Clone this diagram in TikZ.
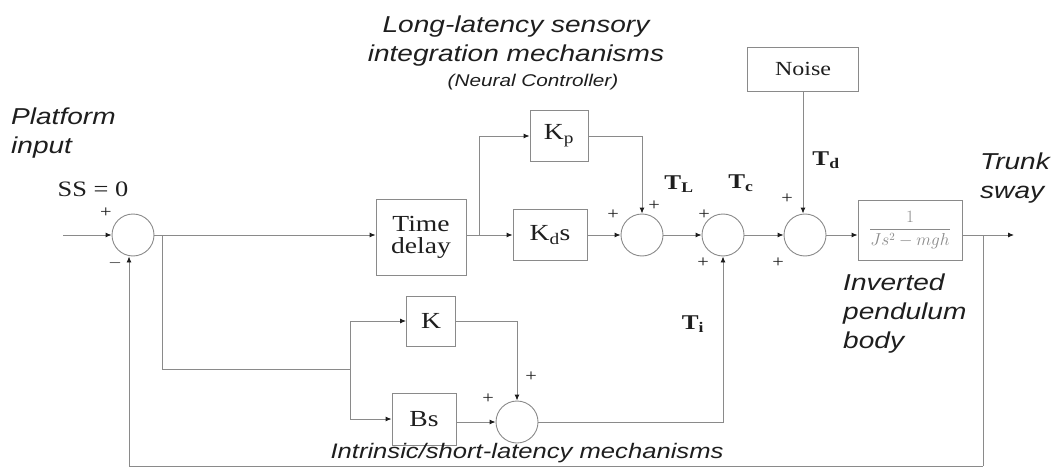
\documentclass[tikz,border=0pt]{standalone}
\usepackage{fontspec}
\setmainfont[FakeStretch=1.2]{Liberation Serif}
\newfontfamily\lblfont[FakeStretch=1.22]{Liberation Sans}
\usepackage{tikz}
\usetikzlibrary{arrows.meta, positioning, calc}
\definecolor{wirecol}{HTML}{8a8a8a}
\definecolor{inkcol}{HTML}{1e1e1e}

\begin{document}
\begin{tikzpicture}[x=1pt, y=-1pt,
  wire/.style={draw=wirecol, line width=0.9pt},
  arr/.style={wire, -{Latex[length=6pt,width=5pt,color=inkcol]}},
  blk/.style={rectangle, draw=wirecol, line width=0.9pt, inner sep=0pt, align=center,
    text=inkcol, font=\fontsize{23}{24}\selectfont},
  sumj/.style={circle, draw=wirecol, line width=0.9pt, minimum size=42pt, inner sep=0pt},
  sgn/.style={inner sep=0pt, text=inkcol, font=\fontsize{17}{17}\selectfont},
  tlbl/.style={inner sep=0pt, text=inkcol, font=\fontsize{21}{21}\selectfont\bfseries},
  lbl/.style={inner sep=0pt, text=inkcol, align=left, font=\lblfont\itshape\fontsize{23}{29}\selectfont}
]
\useasboundingbox (0,0) rectangle (1057,476);

% forward path
\node[sumj] (s1) at (133,235) {};
\node[blk, minimum width=90pt, minimum height=76pt] (td) at (421,237) {Time\\[-2pt]delay};
\node[blk, minimum width=58pt, minimum height=51pt] (kp) at (559,136) {K\textsubscript{p}};
\node[blk, minimum width=74pt, minimum height=51pt] (kd) at (550,235) {K\textsubscript{d}s};
\node[sumj] (s3) at (642,235) {};
\node[sumj] (s2) at (723,235) {};
\node[sumj] (s5) at (805,235) {};
\node[blk, minimum width=111pt, minimum height=44pt, font=\fontsize{20}{20}\selectfont] (nz) at (803,69) {Noise};
\node[blk, minimum width=104pt, minimum height=60pt, text=wirecol, font=\fontsize{16}{16}\selectfont] (pl) at (910,230) {$\displaystyle\frac{1}{Js^2-mgh}$};

% intrinsic path
\node[blk, minimum width=49pt, minimum height=50pt] (kk) at (431,321) {K};
\node[blk, minimum width=64pt, minimum height=52pt] (bs) at (424,419) {Bs};
\node[sumj] (s4) at (517,422) {};

\coordinate (in) at (63,235);
\coordinate (b1) at (162,235);
\coordinate (b2) at (479,235);
\coordinate (b3) at (350,369);
\coordinate (tap) at (983,235);
\coordinate (out) at (1014,235);
\coordinate (fb) at (983,466);

\draw[arr] (in) -- (s1.west);
\draw[arr] (s1.east) -- (td.west |- s1.east);
\draw[arr] (td.east |- b2) -- (kd.west);
\draw[arr] (b2) |- (kp.west);
\draw[arr] (kp.east) -| (s3.north);
\draw[arr] (kd.east) -- (s3.west);
\draw[arr] (s3.east) -- (s2.west);
\draw[arr] (s2.east) -- (s5.west);
\draw[arr] (nz.south) -- (nz.south |- s5.north);
\draw[arr] (s5.east) -- (pl.west |- s5.east);
\draw[arr] (pl.east |- tap) -- (out);
\draw[wire] (tap) -- (fb);
\draw[arr] (fb) -| ([xshift=-4pt]s1.south);

\draw[wire] (b1) |- (b3);
\draw[arr] (b3) |- (kk.west);
\draw[arr] (b3) |- (bs.west);
\draw[arr] (kk.east) -| (s4.north);
\draw[arr] (bs.east |- s4.west) -- (s4.west);
\draw[arr] (s4.east) -| (s2.south);

% signs
\node[sgn] (p1) at (106,213) {+};
\node[sgn] (m1) at (115,263) {$-$};
\node[sgn] (p3a) at (613,215) {+};
\node[sgn] (p3b) at (654,206) {+};
\node[sgn] (p2a) at (704,215) {+};
\node[sgn] (p2b) at (703,263) {+};
\node[sgn] (p5a) at (787,199) {+};
\node[sgn] (p5b) at (778,263) {+};
\node[sgn] (p4a) at (488,399) {+};
\node[sgn] (p4b) at (531,377) {+};

% torque labels
\node[tlbl] (tl) at (679,184) {T\textsubscript{L}};
\node[tlbl] (tc) at (741,183) {T\textsubscript{c}};
\node[tlbl] (tdl) at (826,160) {T\textsubscript{d}};
\node[tlbl] (ti) at (693,324) {T\textsubscript{i}};

% text labels
\node[lbl, anchor=north west] (plat) at (11,108) {Platform\\input};
\node[inner sep=0pt, text=inkcol, font=\fontsize{22}{22}\selectfont] (ss) at (93,189) {SS = 0};
\node[lbl, align=center] (top) at (516,41) {Long-latency sensory\\integration mechanisms};
\node[lbl, align=center, font=\lblfont\itshape\fontsize{17}{17}\selectfont] (nc) at (533,82) {(Neural Controller)};
\node[lbl, anchor=north west] (trunk) at (980,153) {Trunk\\sway};
\node[lbl, anchor=north west] (inv) at (843,274) {Inverted\\pendulum\\body};
\node[lbl, font=\lblfont\itshape\fontsize{21}{21}\selectfont] (intr) at (527,453) {Intrinsic/short-latency mechanisms};
\end{tikzpicture}
\end{document}
